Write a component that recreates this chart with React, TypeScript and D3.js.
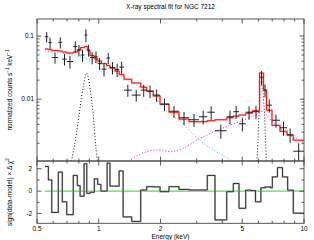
import * as d3 from 'd3';

// bin edges (keV) of the data / model bins
const binEdges = [0.547, 0.568, 0.59, 0.635, 0.664, 0.698, 0.751, 0.786, 0.815, 0.852, 0.879, 0.906, 0.951, 0.988, 1.031, 1.091, 1.134, 1.2, 1.259, 1.327, 1.447, 1.601, 1.712, 1.844, 1.988, 2.199, 2.46, 2.752, 3.079, 3.379, 3.684, 4.201, 4.524, 4.823, 5.199, 5.611, 6.069, 6.348, 6.565, 6.983, 7.639, 8.264, 8.868, 10.0];
const counts = [0.0975, 0.0788, 0.0456, 0.0794, 0.0431, 0.0394, 0.0681, 0.06, 0.05, 0.1037, 0.06, 0.0456, 0.0469, 0.0369, 0.0299, 0.0448, 0.0316, 0.0294, 0.0322, 0.0139, 0.0116, 0.0139, 0.0134, 0.0116, 0.00834, 0.00645, 0.00509, 0.00473, 0.00527, 0.00622, 0.00316, 0.00527, 0.00634, 0.00408, 0.00622, 0.00634, 0.0223, 0.0139, 0.00803, 0.00464, 0.00353, 0.00273, 0.0015];
const countErr = [0.018, 0.016, 0.009, 0.016, 0.009, 0.009, 0.014, 0.012, 0.011, 0.024, 0.013, 0.01, 0.01, 0.008, 0.007, 0.009, 0.007, 0.007, 0.007, 0.003, 0.0025, 0.003, 0.003, 0.0026, 0.0019, 0.0014, 0.0012, 0.0011, 0.0013, 0.0015, 0.0008, 0.0013, 0.0015, 0.001, 0.0015, 0.0015, 0.0055, 0.0032, 0.0019, 0.0011, 0.0009, 0.0007, 0.0005];
const model = [0.0622, 0.061, 0.0589, 0.0578, 0.0557, 0.0537, 0.0557, 0.06, 0.0657, 0.0681, 0.0589, 0.049, 0.0439, 0.0401, 0.0366, 0.034, 0.0311, 0.0278, 0.0245, 0.0207, 0.018, 0.0155, 0.0134, 0.0112, 0.00834, 0.00621, 0.00483, 0.00441, 0.00441, 0.00457, 0.00473, 0.00509, 0.00539, 0.0056, 0.006, 0.00656, 0.0259, 0.0139, 0.0067, 0.00385, 0.0031, 0.0027, 0.00224];

// model components [keV, counts]
const powerlaw = [[0.547, 0.0578], [0.724, 0.0508], [1.014, 0.0361], [1.375, 0.0202], [1.777, 0.0126], [2.056, 0.00755], [2.3, 0.00545], [2.573, 0.00407], [3.01, 0.00245], [3.483, 0.0017], [3.985, 0.00132], [4.458, 0.00105], [4.94, 0.00081]];
const reflection = [[1.3, 0.00085], [1.388, 0.00104], [1.553, 0.00129], [1.777, 0.00152], [1.988, 0.00158], [2.249, 0.00147], [2.573, 0.00167], [3.113, 0.0024], [3.685, 0.0031], [4.36, 0.00386], [5.04, 0.00464], [5.77, 0.00557], [6.24, 0.00645], [6.53, 0.00578], [7.06, 0.00432], [7.9, 0.00322], [8.84, 0.0025], [10.0, 0.00208]];
const lineSoft = [[0.736, 0.00104], [0.757, 0.00167], [0.783, 0.00322], [0.81, 0.0072], [0.838, 0.015], [0.873, 0.0259], [0.906, 0.015], [0.932, 0.0072], [0.953, 0.00322], [0.969, 0.00167], [0.986, 0.00104]];
const lineFe = [[5.902, 0.00104], [5.968, 0.00223], [6.035, 0.00557], [6.139, 0.0129], [6.222, 0.0216], [6.313, 0.0129], [6.42, 0.00557], [6.493, 0.00223], [6.551, 0.00104]];

// residuals: sign(data-model) * delta chi^2
const resEdges = [0.547, 0.568, 0.59, 0.635, 0.664, 0.698, 0.751, 0.786, 0.811, 0.848, 0.874, 0.906, 0.951, 0.988, 1.024, 1.098, 1.134, 1.256, 1.314, 1.447, 1.601, 1.712, 1.844, 1.988, 2.199, 2.46, 2.752, 3.079, 3.379, 3.684, 4.201, 4.524, 4.823, 5.199, 5.51, 5.803, 6.164, 6.466, 6.866, 7.01, 7.424, 7.857, 8.324, 8.868, 10.0];
const resVals = [2.2, 1.0, -1.9, 1.7, -0.95, -2.1, 1.4, 0.5, -0.45, 2.45, -0.2, -0.1, 1.1, 0.6, 0.0, 2.5, 0.45, 1.8, -2.3, -2.7, 0.1, 0.4, 0.38, -0.05, 0.4, 0.15, 0.1, 0.1, 1.4, -2.57, -0.05, 0.68, -1.53, 0.09, 0.05, -0.95, 0.3, 0.38, 0.3, 1.27, 2.1, 1.27, 0.09, -1.97];

const xMajor = [0.5, 1, 2, 5, 10];
const xMinor = [0.6, 0.7, 0.8, 0.9, 3, 4, 6, 7, 8, 9];
const yMajor = [0.01, 0.1];
const yMinor = [0.002, 0.003, 0.004, 0.005, 0.006, 0.007, 0.008, 0.009, 0.02, 0.03, 0.04, 0.05, 0.06, 0.07, 0.08, 0.09];
const resMajor = [-2, 0, 2];
const resMinor = [-1, 1];

const W = 314, H = 240;
const L = 37, R = 304, T = 19, MID = 161, B = 223.3;
const font = 'Liberation Sans, Arial, sans-serif';
const fs = 6.5;

export default function App() {
  const x = d3.scaleLog().domain([0.5, 10]).range([L, R]);
  const y = d3.scaleLog().domain([0.00105, 0.186]).range([MID, T]);
  const yr = d3.scaleLinear().domain([-2.87, 2.69]).range([B, MID]);

  const stepPath = (edges: number[], vals: number[], ys: (v: number) => number) => {
    let p = `M${x(edges[0])},${ys(vals[0])}`;
    vals.forEach((v, i) => {
      if (i > 0) p += `V${ys(v)}`;
      p += `H${x(edges[i + 1])}`;
    });
    return p;
  };

  const curve = d3.line<number[]>().x((d) => x(d[0])).y((d) => y(d[1])).curve(d3.curveCatmullRom);

  const tickLine = (k: string, x1: number, y1: number, x2: number, y2: number) => (
    <line key={k} x1={x1} y1={y1} x2={x2} y2={y2} stroke="#333" strokeWidth={0.8} />
  );

  const ticks: JSX.Element[] = [];
  [[T, MID], [MID, B]].forEach(([t, b], pi) => {
    xMajor.concat(xMinor).forEach((v) => {
      const len = xMajor.includes(v) ? 4.5 : 2.5;
      ticks.push(tickLine(`xt${pi}${v}`, x(v), t, x(v), t + len));
      ticks.push(tickLine(`xb${pi}${v}`, x(v), b, x(v), b - len));
    });
  });
  yMajor.concat(yMinor).forEach((v) => {
    const len = yMajor.includes(v) ? 4.5 : 2.5;
    ticks.push(tickLine(`yl${v}`, L, y(v), L + len, y(v)));
    ticks.push(tickLine(`yr${v}`, R, y(v), R - len, y(v)));
  });
  resMajor.concat(resMinor).forEach((v) => {
    const len = resMajor.includes(v) ? 4.5 : 2.5;
    ticks.push(tickLine(`rl${v}`, L, yr(v), L + len, yr(v)));
    ticks.push(tickLine(`rr${v}`, R, yr(v), R - len, yr(v)));
  });

  const modelD = stepPath(binEdges, model, y);
  const resD = stepPath(resEdges, resVals, yr);

  return (
    <svg width={W} height={H} style={{ position: 'absolute', left: 0, top: 0, background: '#fff' }} fontFamily={font}>
      <defs>
        <clipPath id="top">
          <rect x={L} y={T} width={R - L} height={MID - T} />
        </clipPath>
      </defs>

      <text x={(L + R) / 2} y={9} fontSize={fs} textAnchor="middle">X-ray spectral fit for NGC 7212</text>

      <g clipPath="url(#top)" fill="none">
        <path d={curve(powerlaw) ?? ''} stroke="#00e0e0" strokeWidth={1} strokeDasharray="1,2" />
        <path d={curve(reflection) ?? ''} stroke="#ff00ff" strokeWidth={1} strokeDasharray="1,2" />
        <path d={curve(lineSoft) ?? ''} stroke="#000" strokeWidth={0.9} strokeDasharray="1,2" />
        <path d={curve(lineFe) ?? ''} stroke="#000" strokeWidth={0.9} strokeDasharray="1,2" />
        <path d={modelD} stroke="#ffb4b4" strokeWidth={2} />
        <path d={modelD} stroke="#ff0000" strokeWidth={0.9} />
        {counts.map((c, i) => {
          const lo = binEdges[i], hi = binEdges[i + 1];
          const xc = x(Math.sqrt(lo * hi));
          return (
            <g key={i} stroke="#222" strokeWidth={1}>
              <line x1={x(lo)} x2={x(hi)} y1={y(c)} y2={y(c)} />
              <line x1={xc} x2={xc} y1={y(c - countErr[i])} y2={y(c + countErr[i])} />
            </g>
          );
        })}
      </g>

      <line x1={x(0.547)} x2={R} y1={yr(0)} y2={yr(0)} stroke="#55dd55" strokeWidth={1.3} />
      <path d={resD} fill="none" stroke="#bbb" strokeWidth={1.8} />
      <path d={resD} fill="none" stroke="#222" strokeWidth={0.9} />

      {ticks}
      <rect x={L} y={T} width={R - L} height={MID - T} fill="none" stroke="#444" strokeWidth={0.9} />
      <rect x={L} y={MID} width={R - L} height={B - MID} fill="none" stroke="#444" strokeWidth={0.9} />

      {yMajor.map((v) => (
        <text key={v} x={L - 3} y={y(v) + 2.3} fontSize={fs} textAnchor="end">{v}</text>
      ))}
      {resMajor.map((v) => (
        <text key={v} x={L - 5} y={yr(v) + 2.3} fontSize={fs} textAnchor="end">{v}</text>
      ))}
      {xMajor.map((v) => (
        <text key={v} x={x(v)} y={231} fontSize={fs} textAnchor="middle">{v}</text>
      ))}

      <text x={(L + R) / 2} y={239} fontSize={fs} textAnchor="middle">Energy (keV)</text>
      <text transform={`translate(11.5,${(T + MID) / 2}) rotate(-90)`} fontSize={fs} textAnchor="middle">
        normalized counts s<tspan dy={-2.5} fontSize={4.5}>−1</tspan><tspan dy={2.5}> keV</tspan><tspan dy={-2.5} fontSize={4.5}>−1</tspan>
      </text>
      <text transform={`translate(11.5,${(MID + B) / 2}) rotate(-90)`} fontSize={fs} textAnchor="middle">
        sign(data-model) × Δ χ<tspan dy={-2.5} fontSize={4.5}>2</tspan>
      </text>
    </svg>
  );
}
